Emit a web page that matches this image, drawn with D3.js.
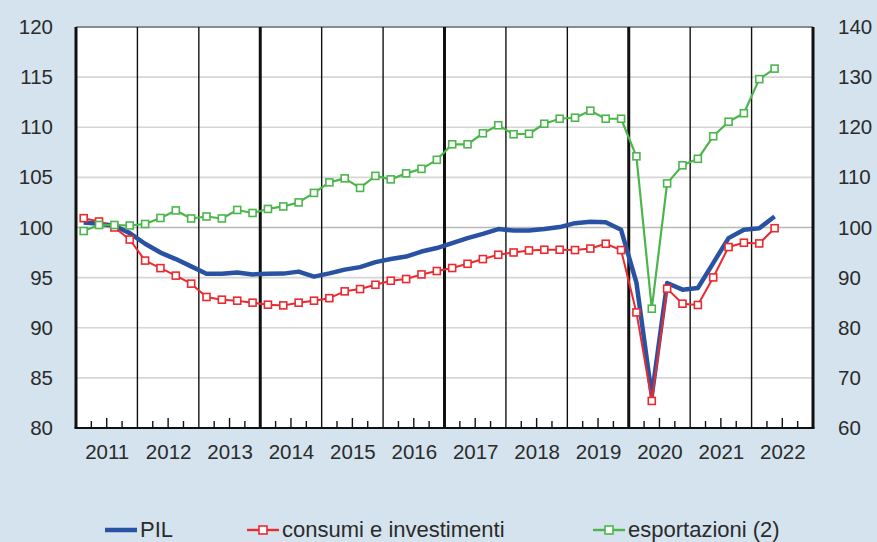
<!DOCTYPE html>
<html>
<head>
<meta charset="utf-8">
<style>
    body { margin: 0; background: #d4e3ed; }
    svg { display: block; font-family: "Liberation Sans", Arial, sans-serif; }
</style>
</head>
<body>
<svg width="877" height="542"></svg>
<script src="https://cdn.jsdelivr.net/npm/d3@7"></script>
<script>
    // quarterly series, 2011 Q1 .. 2022 Q2
    const years = [2011, 2012, 2013, 2014, 2015, 2016, 2017, 2018, 2019, 2020, 2021, 2022];
    const quarters = [1, 2, 3, 4];
    const leftTicks = [80, 85, 90, 95, 100, 105, 110, 115, 120];
    const rightTicks = [60, 70, 80, 90, 100, 110, 120, 130, 140];
    const thickYears = [2014, 2017, 2020];

    const pil = [100.5, 100.37, 100.17, 99.44, 98.38, 97.5, 96.85, 96.12, 95.39, 95.39, 95.52, 95.32, 95.39, 95.4, 95.6, 95.1,
        95.42, 95.8, 96.05, 96.55, 96.85, 97.1, 97.6, 97.95, 98.45, 98.94, 99.37, 99.84, 99.7, 99.7, 99.84, 100.04,
        100.43, 100.57, 100.53, 99.77, 94.5, 83.2, 94.46, 93.8, 93.96, 96.45, 98.94, 99.77, 99.93, 101.1];
    const consumi = [100.93, 100.6, 100.0, 98.8, 96.7, 95.95, 95.2, 94.4, 93.07, 92.8, 92.7, 92.5, 92.3, 92.23, 92.5, 92.7,
        92.95, 93.63, 93.86, 94.29, 94.69, 94.86, 95.32, 95.66, 95.96, 96.38, 96.85, 97.28, 97.51, 97.71, 97.78, 97.78,
        97.75, 97.9, 98.38, 97.75, 91.53, 82.7, 93.9, 92.4, 92.27, 95.02, 98.05, 98.48, 98.41, 99.93];
    // right axis
    const esportazioni = [99.3, 100.5, 100.5, 100.4, 100.7, 101.9, 103.4, 101.8, 102.2, 101.8, 103.5, 102.9, 103.7, 104.2, 105.0, 106.9,
        109.0, 109.8, 107.9, 110.3, 109.6, 110.8, 111.7, 113.5, 116.6, 116.6, 118.8, 120.4, 118.6, 118.7, 120.7, 121.7,
        121.9, 123.3, 121.7, 121.7, 114.2, 83.8, 108.8, 112.4, 113.7, 118.2, 121.1, 122.8, 129.6, 131.7];

    const series = [
        { name: "PIL", values: pil, color: "#2a52a3", width: 4.5, axis: "left", marker: false },
        { name: "consumi e investimenti", values: consumi, color: "#ea2a2f", width: 2, axis: "left", marker: true },
        { name: "esportazioni (2)", values: esportazioni, color: "#4cb64c", width: 2.2, axis: "right", marker: true }
    ];

    const svg = d3.select("svg");
    const margin = { left: 76, right: 877 - 813, top: 27, bottom: 542 - 428 };
    const width = 877, height = 542;

    const x = d3.scaleLinear().domain([years[0], years[years.length - 1] + 1]).range([margin.left, width - margin.right]);
    const yL = d3.scaleLinear().domain([80, 120]).range([height - margin.bottom, margin.top]);
    const yR = d3.scaleLinear().domain([60, 140]).range([height - margin.bottom, margin.top]);

    // x position of each quarter (middle of the quarter)
    const qx = [];
    years.forEach(yr => quarters.forEach(q => qx.push(yr + (q - 0.5) / 4)));

    // plot background
    svg.append("rect")
        .attr("x", x.range()[0]).attr("y", margin.top)
        .attr("width", x.range()[1] - x.range()[0])
        .attr("height", yL.range()[0] - margin.top)
        .attr("fill", "#fff");

    // horizontal grid
    svg.append("g").selectAll("line").data(leftTicks.slice(1, -1)).join("line")
        .attr("x1", x.range()[0]).attr("x2", x.range()[1])
        .attr("y1", d => yL(d)).attr("y2", d => yL(d))
        .attr("stroke", d => d === 100 ? "#b9b9b9" : "#d6d6d6")
        .attr("stroke-width", 1.6);

    // top border
    svg.append("line")
        .attr("x1", x.range()[0]).attr("x2", x.range()[1])
        .attr("y1", margin.top).attr("y2", margin.top)
        .attr("stroke", "#8a8a8a").attr("stroke-width", 2);

    // year separators
    const seps = d3.range(years[0], years[years.length - 1] + 2);
    svg.append("g").selectAll("line").data(seps).join("line")
        .attr("x1", d => x(d)).attr("x2", d => x(d))
        .attr("y1", margin.top).attr("y2", yL.range()[0])
        .attr("stroke", "#111")
        .attr("stroke-width", (d, i) => (thickYears.includes(d) || i === 0 || i === seps.length - 1) ? 3 : 1.4);

    // bottom border + quarter ticks
    svg.append("line")
        .attr("x1", x.range()[0] - 1.5).attr("x2", x.range()[1] + 1.5)
        .attr("y1", yL.range()[0]).attr("y2", yL.range()[0])
        .attr("stroke", "#111").attr("stroke-width", 2);

    const qTicks = [];
    years.forEach(yr => [1, 2, 3].forEach(q => qTicks.push(yr + q / 4)));
    svg.append("g").selectAll("line").data(qTicks).join("line")
        .attr("x1", d => x(d)).attr("x2", d => x(d))
        .attr("y1", yL.range()[0])
        .attr("y2", d => yL.range()[0] - (Math.abs((d % 1) - 0.5) < 0.01 ? 10 : 7))
        .attr("stroke", "#111").attr("stroke-width", 1.4);

    // axes
    const xAxis = svg.append("g")
        .attr("transform", `translate(0,${yL.range()[0]})`)
        .call(d3.axisBottom(x).tickValues(years.map(d => d + 0.5)).tickSize(0).tickPadding(16)
            .tickFormat(d => Math.floor(d)));
    xAxis.select(".domain").remove();

    const lAxis = svg.append("g")
        .attr("transform", `translate(${margin.left},0)`)
        .call(d3.axisLeft(yL).tickValues(leftTicks).tickSize(0).tickPadding(23));
    lAxis.select(".domain").remove();

    const rAxis = svg.append("g")
        .attr("transform", `translate(${width - margin.right},0)`)
        .call(d3.axisRight(yR).tickValues(rightTicks).tickSize(0).tickPadding(25));
    rAxis.select(".domain").remove();

    svg.selectAll(".tick text")
        .attr("font-size", 20.5)
        .attr("font-family", "Liberation Sans, Arial, sans-serif")
        .attr("fill", "#2b2b2b");

    // lines
    series.forEach(s => {
        const yS = s.axis === "left" ? yL : yR;
        const line = d3.line().x((d, i) => x(qx[i])).y(d => yS(d));
        svg.append("path")
            .datum(s.values)
            .attr("d", line)
            .attr("fill", "none")
            .attr("stroke", s.color)
            .attr("stroke-width", s.width)
            .attr("stroke-linejoin", "round");
        if (s.marker) {
            svg.append("g").selectAll("rect").data(s.values).join("rect")
                .attr("x", (d, i) => x(qx[i]) - 3.5)
                .attr("y", d => yS(d) - 3.5)
                .attr("width", 7).attr("height", 7)
                .attr("fill", "#fff")
                .attr("stroke", s.color)
                .attr("stroke-width", 1.6);
        }
    });

    // legend
    const legendY = 530;
    const legendX = [105, 247, 593];
    const legend = svg.append("g");
    series.forEach((s, i) => {
        const g = legend.append("g").attr("transform", `translate(${legendX[i]},${legendY})`);
        g.append("line").attr("x1", 0).attr("x2", 32).attr("y1", 0).attr("y2", 0)
            .attr("stroke", s.color).attr("stroke-width", s.marker ? 2.4 : 4.5);
        if (s.marker) {
            g.append("rect").attr("x", 12).attr("y", -4).attr("width", 8).attr("height", 8)
                .attr("fill", "#fff").attr("stroke", s.color).attr("stroke-width", 1.6);
        }
        g.append("text").attr("x", 35).attr("y", 6.5)
            .attr("font-size", 22)
            .attr("fill", "#2b2b2b")
            .text(s.name);
    });
</script>
</body>
</html>
